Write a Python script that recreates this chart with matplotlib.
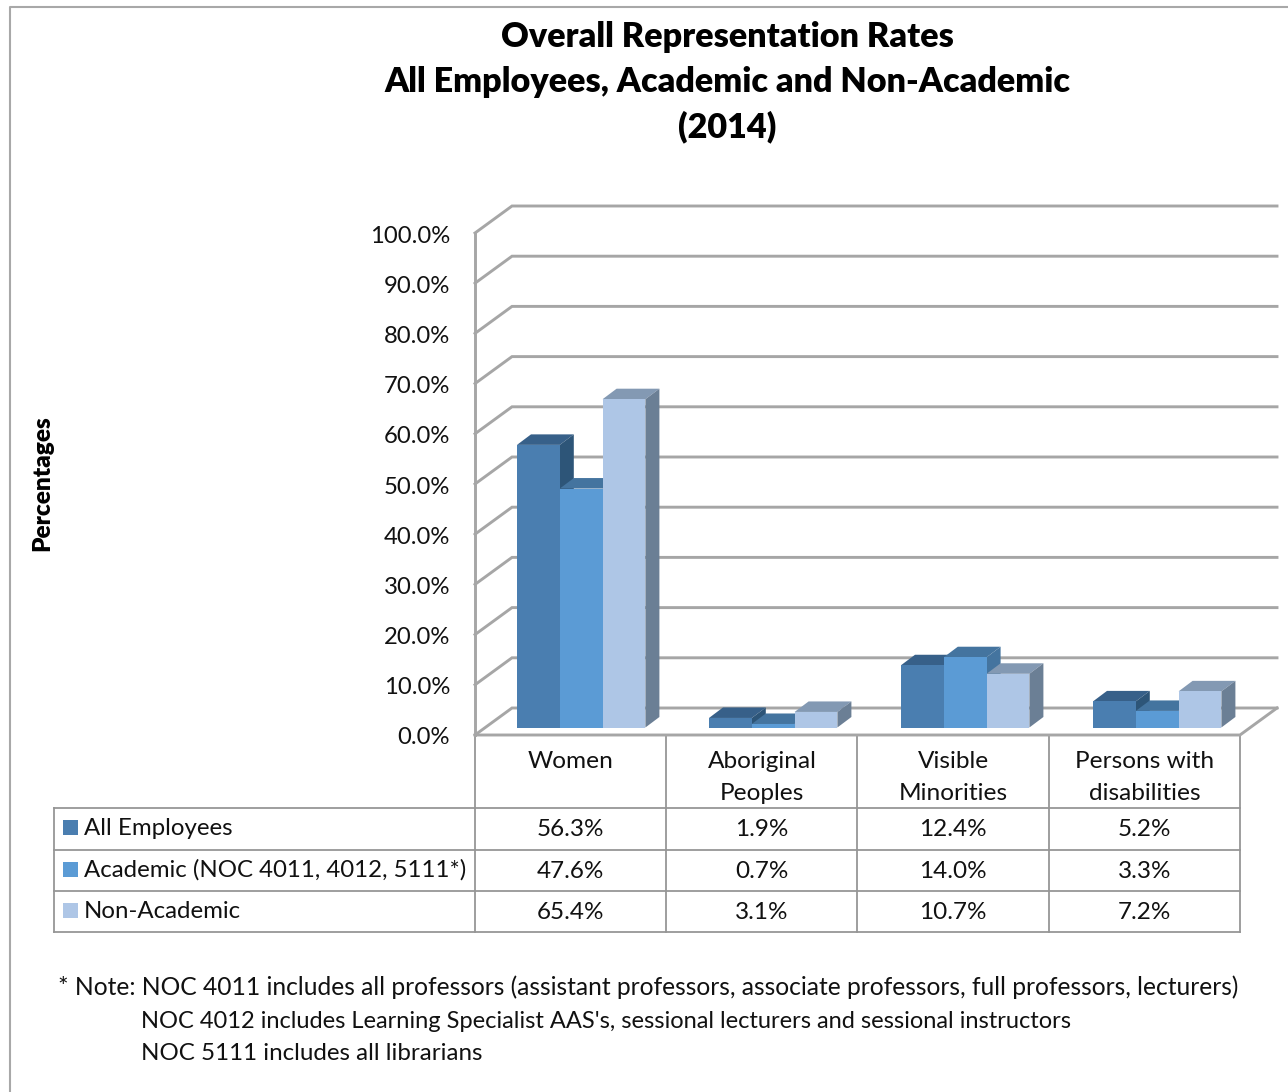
import matplotlib
matplotlib.use("Agg")
import matplotlib.pyplot as plt
from matplotlib.patches import Rectangle
from matplotlib.transforms import Affine2D

plt.rcParams['font.family'] = ['Lato', 'DejaVu Sans']

categories = ['Women', 'Aboriginal\nPeoples', 'Visible\nMinorities', 'Persons with\ndisabilities']
series_names = ['All Employees', 'Academic (NOC 4011, 4012, 5111*)', 'Non-Academic']
all_employees = [56.3, 1.9, 12.4, 5.2]
academic = [47.6, 0.7, 14.0, 3.3]
non_academic = [65.4, 3.1, 10.7, 7.2]
y_ticks = [0, 10, 20, 30, 40, 50, 60, 70, 80, 90, 100]
title_lines = ['Overall Representation Rates', 'All Employees, Academic and Non-Academic', '(2014)']
notes = [
    "* Note: NOC 4011 includes all professors (assistant professors, associate professors, full professors, lecturers)",
    "NOC 4012 includes Learning Specialist AAS's, sessional lecturers and sessional instructors",
    "NOC 5111 includes all librarians",
]

W, H = 1288, 1092
GRID = '#a6a6a6'
TABLE = '#969696'
TEXT = '#111111'
front_cols = ['#4a7eb0', '#5b9bd5', '#aec6e6']
top_cols = ['#376089', '#44749f', '#8399b3']
side_cols = ['#2d5578', '#44749f', '#6b7f95']

fig = plt.figure(figsize=(W / 100, H / 100), dpi=100, facecolor='white')

# pixel-space layer for the frame, titles and table
page = fig.add_axes([0, 0, 1, 1])
page.set_xlim(0, W)
page.set_ylim(H, 0)
page.axis('off')

# front plane of the 3d box: one unit on x is a category
left, right, bottom, top = 475, 1240, 735, 233
ax = fig.add_axes([left / W, 1 - bottom / H, (right - left) / W, (bottom - top) / H])
ax.set_xlim(0, 4)
ax.set_ylim(0, 100)
ax.patch.set_alpha(0)
unit_x = (right - left) / 4
unit_y = (bottom - top) / 100

# depth of the walls and of the bars, in data units
wall_dx, wall_dy = 37 / unit_x, 27 / unit_y
bar_dx, bar_dy = 14 / unit_x, 10.5 / unit_y
bar_base = 7.5 / unit_y
bar_w = 42.8 / unit_x
bar_off = 42 / unit_x
pitch = 192 / unit_x

for v in y_ticks:
    ax.plot([0, wall_dx, 4 + wall_dx], [v, v + wall_dy, v + wall_dy],
            color=GRID, lw=2.1, clip_on=False, solid_joinstyle='miter', zorder=1)
ax.plot([0, 0], [0, 100], color=GRID, lw=2.1, clip_on=False, zorder=1)
ax.plot([0, 4, 4 + wall_dx], [0, 0, wall_dy], color=GRID, lw=2.1, clip_on=False, zorder=1)

z = 2
for c in range(len(categories)):
    for s, vals in enumerate([all_employees, academic, non_academic]):
        x0 = bar_off + c * pitch + s * bar_w
        x1 = x0 + bar_w
        y0 = bar_base
        y1 = bar_base + vals[c]
        ax.fill([x0, x1, x1 + bar_dx, x0 + bar_dx],
                [y1, y1, y1 + bar_dy, y1 + bar_dy],
                color=top_cols[s], lw=0, clip_on=False, zorder=z)
        ax.fill([x1, x1 + bar_dx, x1 + bar_dx, x1],
                [y0, y0 + bar_dy, y1 + bar_dy, y1],
                color=side_cols[s], lw=0, clip_on=False, zorder=z)
        ax.bar(x0, vals[c], bar_w, bottom=y0, align='edge', color=front_cols[s],
               lw=0, clip_on=False, zorder=z + 1)
        z += 2

for sp in ax.spines.values():
    sp.set_visible(False)
ax.set_yticks(y_ticks)
ax.set_yticklabels([f'{v:.1f}%' for v in y_ticks], fontsize=17.2, color=TEXT)
ax.set_xticks([i + 0.5 for i in range(4)])
ax.set_xticklabels(categories, fontsize=17.6, color=TEXT, linespacing=1.62)
ax.tick_params(axis='both', length=0)
ax.tick_params(axis='y', pad=18)
ax.tick_params(axis='x', pad=11.5)
for lab in ax.get_yticklabels():
    lab.set_transform(lab.get_transform() + Affine2D().translate(0, -1))

# outer frame
page.plot([W, 10.5, 10.5], [6.5, 6.5, H], color='#a8a8a8', lw=1.5)

for line, y in zip(title_lines, [37, 82, 127]):
    page.text(727, y, line, ha='center', va='center', fontsize=24.6, fontweight=800, color='black')
page.text(42, 483, 'Percentages', rotation=90, ha='center', va='center',
          fontsize=17.6, fontweight=800, color='black')

# data table under the plot
rows_y = [808, 849.5, 891, 932]
cols_x = [left + i * unit_x for i in range(5)]
for y in rows_y:
    page.plot([54, right], [y, y], color=TABLE, lw=1.3)
page.plot([54, 54], [rows_y[0], rows_y[-1]], color=TABLE, lw=1.3)
for x in cols_x:
    page.plot([x, x], [bottom, rows_y[-1]], color=TABLE, lw=1.3)

for s, vals in enumerate([all_employees, academic, non_academic]):
    yc = (rows_y[s] + rows_y[s + 1]) / 2
    page.add_patch(Rectangle((63, yc - 8.5), 15, 15, color=front_cols[s], lw=0))
    page.text(84, yc, series_names[s], ha='left', va='center', fontsize=17.3, color=TEXT)
    for c, v in enumerate(vals):
        page.text(cols_x[c] + unit_x / 2, yc + 1, f'{v:.1f}%', ha='center', va='center',
                  fontsize=17.5, color=TEXT)

note_x = [58, 141, 141]
note_y = [987, 1021, 1053]
note_size = [17.7, 17.05, 17.4]
for t, x, y, fs in zip(notes, note_x, note_y, note_size):
    page.text(x, y, t, ha='left', va='center', fontsize=fs, color=TEXT)

fig.savefig('out.png', dpi=100)
